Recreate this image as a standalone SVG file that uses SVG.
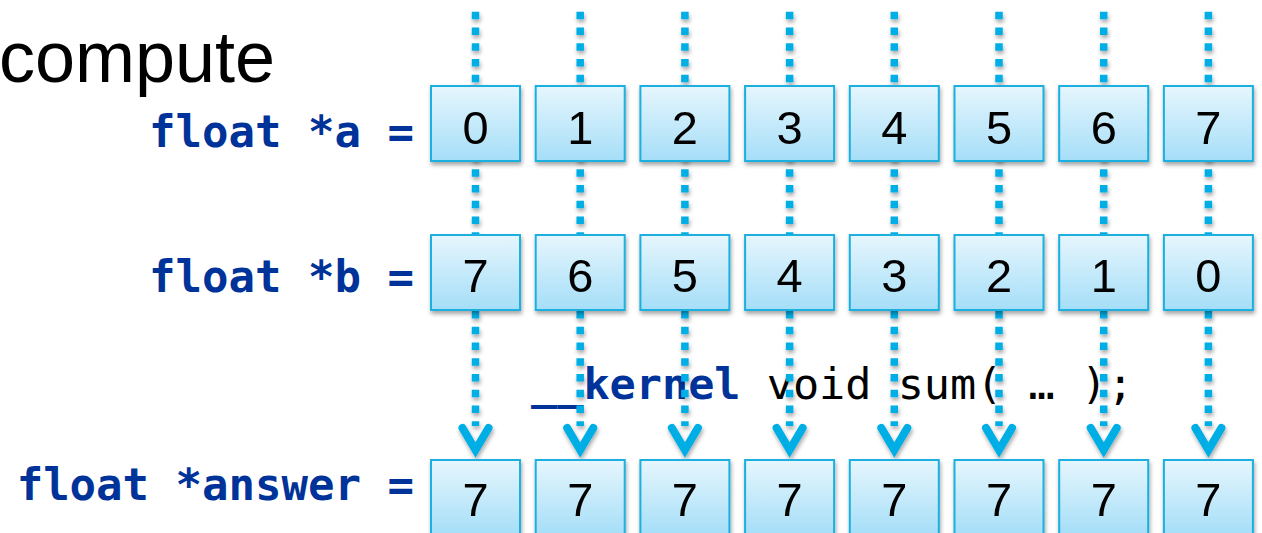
<svg xmlns="http://www.w3.org/2000/svg" width="1262" height="533" viewBox="0 0 1262 533">
<defs>
<linearGradient id="boxg" x1="0" y1="0" x2="0" y2="1">
<stop offset="0" stop-color="#e6f6fd"/>
<stop offset="1" stop-color="#a5def8"/>
</linearGradient>
<filter id="sh" x="-20%" y="-20%" width="140%" height="140%">
<feDropShadow dx="1" dy="3" stdDeviation="2" flood-color="#000" flood-opacity="0.35"/>
</filter>
<marker id="arr" markerUnits="userSpaceOnUse" refX="0" refY="0" markerWidth="40" markerHeight="40" orient="auto" overflow="visible">
<path d="M 2,-13 L 24,0 L 2,13" fill="none" stroke="#00aee6" stroke-width="8" stroke-linecap="round" stroke-linejoin="miter"/>
</marker>
</defs>
<style>
.lbl{font-family:"DejaVu Sans Mono","Liberation Mono",monospace;font-weight:bold;font-size:44px;fill:#003399}
.code{font-family:"DejaVu Sans Mono","Liberation Mono",monospace;font-size:43.5px;fill:#000}
.kw{font-weight:bold;fill:#003399}
.box{fill:url(#boxg);stroke:#1bb0e0;stroke-width:2}
.num{font-family:"Liberation Sans",Arial,sans-serif;font-size:47px;fill:#000;text-anchor:middle}
.dl{stroke:#00aee6;stroke-width:7.5;stroke-dasharray:7.5 8.25;fill:none}
</style>
<text x="-1" y="82" font-family="Liberation Sans, Arial, sans-serif" font-size="72" fill="#000">compute</text>
<text class="lbl" x="414" y="147" text-anchor="end">float *a =</text>
<text class="lbl" x="414" y="292" text-anchor="end">float *b =</text>
<text class="lbl" x="414" y="500" text-anchor="end">float *answer =</text>
<text class="code" x="531" y="399"><tspan class="kw">__kernel</tspan> void sum( … );</text>
<g id="connectors" filter="url(#sh)">
<line class="dl" x1="475.5" y1="11.7" x2="475.5" y2="426" marker-end="url(#arr)"/>
<line class="dl" x1="580.2" y1="11.7" x2="580.2" y2="426" marker-end="url(#arr)"/>
<line class="dl" x1="684.9" y1="11.7" x2="684.9" y2="426" marker-end="url(#arr)"/>
<line class="dl" x1="789.6" y1="11.7" x2="789.6" y2="426" marker-end="url(#arr)"/>
<line class="dl" x1="894.3" y1="11.7" x2="894.3" y2="426" marker-end="url(#arr)"/>
<line class="dl" x1="999" y1="11.7" x2="999" y2="426" marker-end="url(#arr)"/>
<line class="dl" x1="1103.7" y1="11.7" x2="1103.7" y2="426" marker-end="url(#arr)"/>
<line class="dl" x1="1208.4" y1="11.7" x2="1208.4" y2="426" marker-end="url(#arr)"/>
</g>
<g id="a" filter="url(#sh)">
<g id="a0"><rect class="box" x="431" y="86" width="89" height="75"/><text class="num" x="475.5" y="144">0</text></g>
<g id="a1"><rect class="box" x="535.7" y="86" width="89" height="75"/><text class="num" x="580.2" y="144">1</text></g>
<g id="a2"><rect class="box" x="640.4" y="86" width="89" height="75"/><text class="num" x="684.9" y="144">2</text></g>
<g id="a3"><rect class="box" x="745.1" y="86" width="89" height="75"/><text class="num" x="789.6" y="144">3</text></g>
<g id="a4"><rect class="box" x="849.8" y="86" width="89" height="75"/><text class="num" x="894.3" y="144">4</text></g>
<g id="a5"><rect class="box" x="954.5" y="86" width="89" height="75"/><text class="num" x="999" y="144">5</text></g>
<g id="a6"><rect class="box" x="1059.2" y="86" width="89" height="75"/><text class="num" x="1103.7" y="144">6</text></g>
<g id="a7"><rect class="box" x="1163.9" y="86" width="89" height="75"/><text class="num" x="1208.4" y="144">7</text></g>
</g>
<g id="b" filter="url(#sh)">
<g id="b0"><rect class="box" x="431" y="235" width="89" height="75"/><text class="num" x="475.5" y="292">7</text></g>
<g id="b1"><rect class="box" x="535.7" y="235" width="89" height="75"/><text class="num" x="580.2" y="292">6</text></g>
<g id="b2"><rect class="box" x="640.4" y="235" width="89" height="75"/><text class="num" x="684.9" y="292">5</text></g>
<g id="b3"><rect class="box" x="745.1" y="235" width="89" height="75"/><text class="num" x="789.6" y="292">4</text></g>
<g id="b4"><rect class="box" x="849.8" y="235" width="89" height="75"/><text class="num" x="894.3" y="292">3</text></g>
<g id="b5"><rect class="box" x="954.5" y="235" width="89" height="75"/><text class="num" x="999" y="292">2</text></g>
<g id="b6"><rect class="box" x="1059.2" y="235" width="89" height="75"/><text class="num" x="1103.7" y="292">1</text></g>
<g id="b7"><rect class="box" x="1163.9" y="235" width="89" height="75"/><text class="num" x="1208.4" y="292">0</text></g>
</g>
<g id="answer" filter="url(#sh)">
<g id="c0"><rect class="box" x="431" y="460" width="89" height="75"/><text class="num" x="475.5" y="516">7</text></g>
<g id="c1"><rect class="box" x="535.7" y="460" width="89" height="75"/><text class="num" x="580.2" y="516">7</text></g>
<g id="c2"><rect class="box" x="640.4" y="460" width="89" height="75"/><text class="num" x="684.9" y="516">7</text></g>
<g id="c3"><rect class="box" x="745.1" y="460" width="89" height="75"/><text class="num" x="789.6" y="516">7</text></g>
<g id="c4"><rect class="box" x="849.8" y="460" width="89" height="75"/><text class="num" x="894.3" y="516">7</text></g>
<g id="c5"><rect class="box" x="954.5" y="460" width="89" height="75"/><text class="num" x="999" y="516">7</text></g>
<g id="c6"><rect class="box" x="1059.2" y="460" width="89" height="75"/><text class="num" x="1103.7" y="516">7</text></g>
<g id="c7"><rect class="box" x="1163.9" y="460" width="89" height="75"/><text class="num" x="1208.4" y="516">7</text></g>
</g>
</svg>
